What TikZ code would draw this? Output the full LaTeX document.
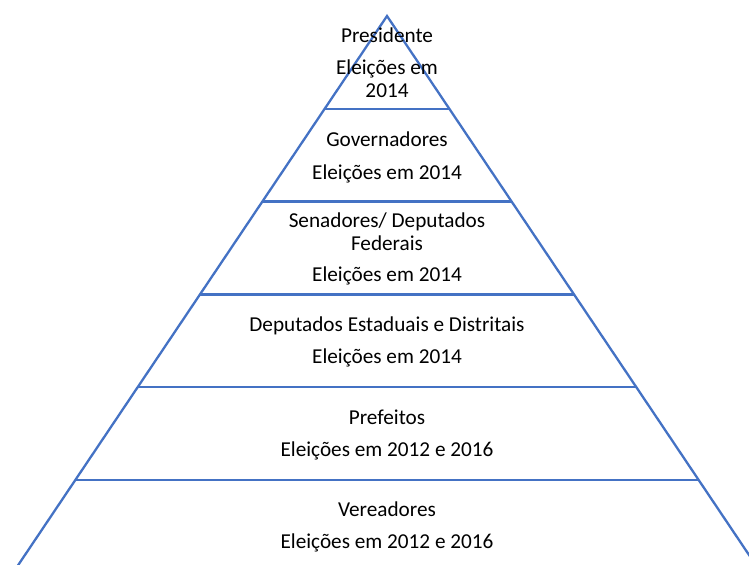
\documentclass[tikz,border=0pt]{standalone}
\usepackage{fontspec}
\setmainfont{Carlito}
\definecolor{pyrblue}{HTML}{4472C4}
\begin{document}
\begin{tikzpicture}[x=1bp,y=-1bp,
  edge/.style={draw=pyrblue,line width=2.3bp},
  lbl/.style={anchor=base,inner sep=0pt,font=\fontsize{21.3}{22.5}\selectfont,text=black}]
\useasboundingbox (0,0) rectangle (749,565);
\begin{scope}
\clip (0,0) rectangle (749,565);
\coordinate (apex) at (387,16);
\coordinate (bl) at ({387-0.6717*560},576);
\coordinate (br) at ({387+0.6717*560},576);
\draw[edge,line join=miter] (bl) -- (apex) -- (br);
\foreach \i in {1,...,5}{
  \pgfmathsetmacro{\yy}{16+\i*92.8}
  \pgfmathsetmacro{\hw}{0.6717*(\yy-16)}
  \coordinate (l\i) at ({387-\hw},\yy);
  \coordinate (r\i) at ({387+\hw},\yy);
  \draw[edge] (l\i) -- (r\i);
}
\end{scope}
\node[lbl] (t1a) at (387,42.2) {Presidente};
\node[lbl] (t1b) at (387,74.5) {Eleições em};
\node[lbl] (t1c) at (387,97.2) {2014};
\node[lbl] (t2a) at (387,146.5) {Governadores};
\node[lbl] (t2b) at (387,179.5) {Eleições em 2014};
\node[lbl] (t3a) at (387,227.5) {Senadores/ Deputados};
\node[lbl] (t3b) at (387,250.2) {Federais};
\node[lbl] (t3c) at (387,281.9) {Eleições em 2014};
\node[lbl] (t4a) at (387,331.9) {Deputados Estaduais e Distritais};
\node[lbl] (t4b) at (387,363.5) {Eleições em 2014};
\node[lbl] (t5a) at (387,424.2) {Prefeitos};
\node[lbl] (t5b) at (387,456.2) {Eleições em 2012 e 2016};
\node[lbl] (t6a) at (387,516.2) {Vereadores};
\node[lbl] (t6b) at (387,548.5) {Eleições em 2012 e 2016};
\end{tikzpicture}
\end{document}
